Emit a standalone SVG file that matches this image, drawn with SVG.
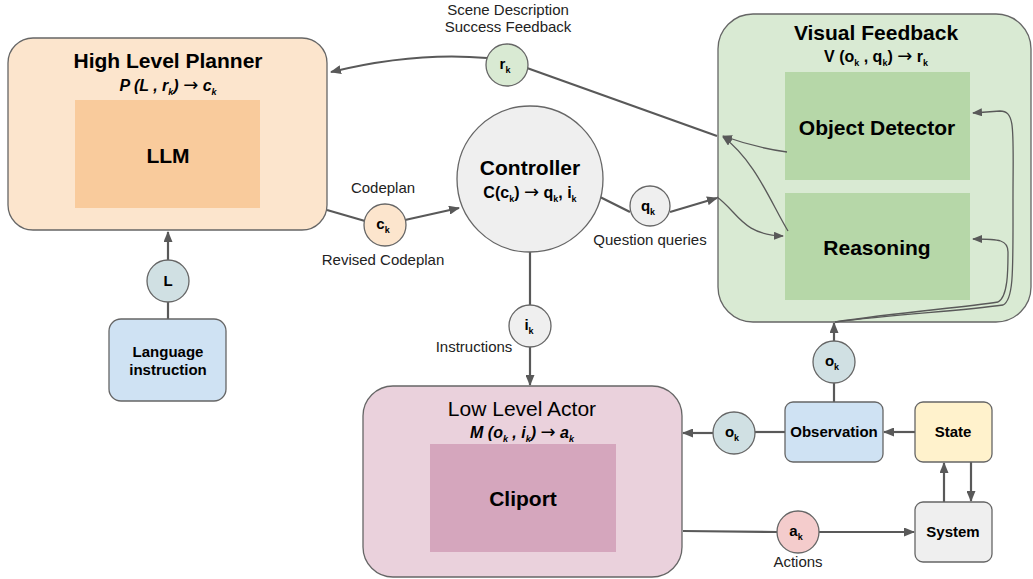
<svg xmlns="http://www.w3.org/2000/svg" width="1033" height="579" viewBox="0 0 1033 579">
  <style>
    text { font-family: "Liberation Sans", Arial, sans-serif; fill: #000; text-anchor: middle; }
    .title { font-size: 21px; font-weight: bold; }
    .sub { font-size: 16px; font-weight: bold; }
    .subi { font-size: 16px; font-weight: bold; font-style: italic; }
    .inner { font-size: 21px; font-weight: bold; }
    .small { font-size: 15px; font-weight: bold; }
    .lab { font-size: 15px; fill: #222; }
    .k { font-size: 9px; }
    .arr { font-family: "DejaVu Sans", sans-serif; font-weight: normal; font-style: normal; font-size: 18px; }
    .box { stroke: #666; stroke-width: 1.3; }
    .bub { stroke: #666; stroke-width: 1.3; }
    .wire { fill: none; stroke: #595959; stroke-width: 2.2; }
    .thin { fill: none; stroke: #595959; stroke-width: 1.3; }
  </style>
  <defs>
    <marker id="ah" viewBox="0 0 11 9" refX="10" refY="4.5" markerWidth="11" markerHeight="9" markerUnits="userSpaceOnUse" orient="auto">
      <path d="M0,0 L11,4.5 L0,9 z" fill="#595959"/>
    </marker>
    <marker id="ahs" viewBox="0 0 10 8" refX="9" refY="4" markerWidth="10" markerHeight="8" markerUnits="userSpaceOnUse" orient="auto">
      <path d="M0,0 L10,4 L0,8 z" fill="#595959"/>
    </marker>
  </defs>

  <!-- connectors -->
  <g id="connectors">
    <path class="wire" d="M717,136 L527,68"/>
    <path class="wire" d="M487,58 C430,53 380,60 331,72" marker-end="url(#ah)"/>
    <path class="wire" d="M327,210 L365,221"/>
    <path class="wire" d="M405,220 L459,208" marker-end="url(#ah)"/>
    <path class="wire" d="M600,197 L630,212"/>
    <path class="wire" d="M670,212 L717,198" marker-end="url(#ah)"/>
    <path class="wire" d="M530,252 L530,305"/>
    <path class="wire" d="M530,347 L530,385" marker-end="url(#ah)"/>
    <path class="wire" d="M168,319 L168,302"/>
    <path class="wire" d="M168,260 L168,232" marker-end="url(#ah)"/>
    <path class="wire" d="M834,402 L834,383"/>
    <path class="wire" d="M834,341 L834,323" marker-end="url(#ah)"/>
    <path class="wire" d="M785,432 L755,432"/>
    <path class="wire" d="M713,433 L683,433" marker-end="url(#ah)"/>
    <path class="wire" d="M915,432 L884,432" marker-end="url(#ah)"/>
    <path class="wire" d="M944,502 L944,463" marker-end="url(#ah)"/>
    <path class="wire" d="M971,462 L971,501" marker-end="url(#ah)"/>
    <path class="wire" d="M683,531 L777,532"/>
    <path class="wire" d="M819,532 L914,532" marker-end="url(#ah)"/>
  </g>

  <!-- High Level Planner -->
  <g id="planner">
    <rect class="box" x="8" y="38" width="319" height="192" rx="25" fill="#fce5cd"/>
    <text class="title" x="168" y="68">High Level Planner</text>
    <text class="subi" x="168" y="91">P (L , r<tspan class="k" dy="4">k</tspan><tspan dy="-4">)&#160;</tspan><tspan class="arr">→</tspan>&#160;c<tspan class="k" dy="4">k</tspan></text>
    <rect x="75" y="100" width="185" height="108" fill="#f9cb9c"/>
    <text class="inner" x="168" y="163">LLM</text>
  </g>

  <!-- Controller -->
  <g id="controller">
    <circle class="box" cx="530" cy="179" r="73" fill="#efefef"/>
    <text class="title" x="530" y="175">Controller</text>
    <text class="sub" x="530" y="198">C(c<tspan class="k" dy="4">k</tspan><tspan dy="-4">)&#160;</tspan><tspan class="arr">→</tspan>&#160;q<tspan class="k" dy="4">k</tspan><tspan dy="-4">, i</tspan><tspan class="k" dy="4">k</tspan></text>
  </g>

  <!-- Visual Feedback -->
  <g id="visual-feedback">
    <rect class="box" x="718" y="14" width="313" height="308" rx="35" fill="#d9ead3"/>
    <text class="title" x="876" y="40">Visual Feedback</text>
    <text class="sub" x="876" y="62">V (o<tspan class="k" dy="4">k</tspan><tspan dy="-4"> , q</tspan><tspan class="k" dy="4">k</tspan><tspan dy="-4">)&#160;</tspan><tspan class="arr">→</tspan>&#160;r<tspan class="k" dy="4">k</tspan></text>
    <rect x="785" y="72" width="185" height="108" fill="#b6d7a8"/>
    <text class="inner" x="877" y="135">Object Detector</text>
    <rect x="785" y="193" width="185" height="107" fill="#b6d7a8"/>
    <text class="inner" x="877" y="255">Reasoning</text>
    <path class="thin" d="M787,152 C765,149 748,145 723,136" marker-end="url(#ahs)"/>
    <path class="thin" d="M788,231 C772,205 755,160 723,137" marker-end="url(#ahs)"/>
    <path class="thin" d="M717,197 C738,212 742,235 783,236" marker-end="url(#ahs)"/>
    <path class="thin" d="M835,322 C900,314 960,311 1003,305 C1014,300 1013,270 1013,200 C1013,130 1016,111 1000,111 L973,113" marker-end="url(#ahs)"/>
    <path class="thin" d="M835,322 C900,312 960,308 998,302 C1008,297 1008,270 1008,252 C1008,240 1000,239 973,239" marker-end="url(#ahs)"/>
  </g>

  <!-- Low Level Actor -->
  <g id="actor">
    <rect class="box" x="363" y="386" width="319" height="191" rx="30" fill="#ead1dc"/>
    <text x="522" y="416" style="font-size:21px">Low Level Actor</text>
    <text class="subi" x="522" y="438">M (o<tspan class="k" dy="4">k</tspan><tspan dy="-4"> , i</tspan><tspan class="k" dy="4">k</tspan><tspan dy="-4">)&#160;</tspan><tspan class="arr">→</tspan>&#160;a<tspan class="k" dy="4">k</tspan></text>
    <rect x="430" y="444" width="186" height="108" fill="#d5a6bd"/>
    <text class="inner" x="523" y="506">Cliport</text>
  </g>

  <!-- Language instruction -->
  <g id="language">
    <rect class="box" x="109" y="319" width="117" height="82" rx="12" fill="#cfe2f3"/>
    <text class="small" x="168" y="357">Language</text>
    <text class="small" x="168" y="375">instruction</text>
  </g>

  <!-- Observation / State / System -->
  <g id="observation">
    <rect class="box" x="785" y="402" width="98" height="60" rx="8" fill="#cfe2f3"/>
    <text class="small" x="834" y="437">Observation</text>
  </g>
  <g id="state">
    <rect class="box" x="915" y="402" width="77" height="60" rx="8" fill="#fff2cc"/>
    <text class="small" x="953" y="437">State</text>
  </g>
  <g id="system">
    <rect class="box" x="915" y="502" width="77" height="60" rx="8" fill="#efefef"/>
    <text class="small" x="953" y="537">System</text>
  </g>

  <!-- signal bubbles -->
  <g id="r-k">
    <circle class="bub" cx="507" cy="65" r="21" fill="#d9ead3"/>
    <text class="small" x="505" y="69">r<tspan class="k" dy="4">k</tspan></text>
    <text class="lab" x="508" y="15">Scene Description</text>
    <text class="lab" x="508" y="32">Success Feedback</text>
  </g>
  <g id="c-k">
    <circle class="bub" cx="385" cy="225" r="21" fill="#fce5cd"/>
    <text class="small" x="383" y="229">c<tspan class="k" dy="4">k</tspan></text>
    <text class="lab" x="383" y="193">Codeplan</text>
    <text class="lab" x="383" y="265">Revised Codeplan</text>
  </g>
  <g id="q-k">
    <circle class="bub" cx="650" cy="206" r="20" fill="#efefef"/>
    <text class="small" x="648" y="211">q<tspan class="k" dy="4">k</tspan></text>
    <text class="lab" x="650" y="245">Question queries</text>
  </g>
  <g id="i-k">
    <circle class="bub" cx="530" cy="326" r="21" fill="#efefef"/>
    <text class="small" x="529" y="330">i<tspan class="k" dy="4">k</tspan></text>
    <text class="lab" x="474" y="352">Instructions</text>
  </g>
  <g id="L">
    <circle class="bub" cx="168" cy="281" r="21" fill="#d0e0e3"/>
    <text class="small" x="168" y="286">L</text>
  </g>
  <g id="o-k-up">
    <circle class="bub" cx="834" cy="362" r="21" fill="#d0e0e3"/>
    <text class="small" x="832" y="366">o<tspan class="k" dy="4">k</tspan></text>
  </g>
  <g id="o-k-left">
    <circle class="bub" cx="734" cy="433" r="21" fill="#d0e0e3"/>
    <text class="small" x="732" y="437">o<tspan class="k" dy="4">k</tspan></text>
  </g>
  <g id="a-k">
    <circle class="bub" cx="798" cy="532" r="21" fill="#f4cccc"/>
    <text class="small" x="796" y="536">a<tspan class="k" dy="4">k</tspan></text>
    <text class="lab" x="798" y="567">Actions</text>
  </g>
</svg>
